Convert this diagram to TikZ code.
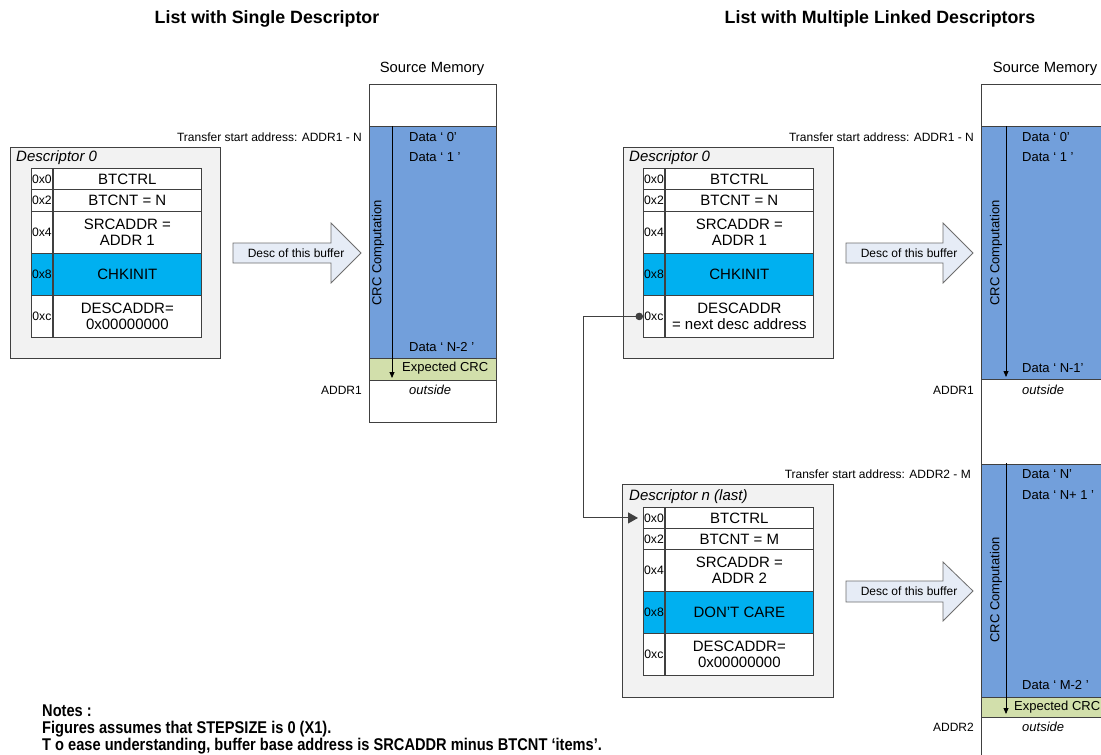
\documentclass[tikz,border=0pt]{standalone}
\usepackage{fontspec}
\setmainfont{Liberation Sans}
\newfontfamily\narrowfont[FakeStretch=0.86]{Liberation Sans}
\usetikzlibrary{arrows.meta}
\definecolor{descgray}{RGB}{242,242,242}
\definecolor{edge}{RGB}{64,64,64}
\definecolor{chk}{RGB}{0,176,240}
\definecolor{memblue}{RGB}{114,159,219}
\definecolor{crcgreen}{RGB}{210,223,171}
\definecolor{arrfill}{RGB}{230,236,246}
\definecolor{arredge}{RGB}{110,110,110}
\newcommand{\fsz}[2]{\fontsize{#1}{#2}\selectfont}
% row macro: name, x, y, height, addr, content, extra style
\newcommand{\drow}[7]{%
  \node[addrcell,#7,minimum height=#4,anchor=north west] (#1a) at (#2,#3) {#5};
  \node[valcell,#7,minimum height=#4,anchor=north west] (#1v) at (#1a.north east) {#6};}
\begin{document}
\begin{tikzpicture}[x=1pt,y=-1pt,
  title/.style={font=\fsz{17.8}{20}\bfseries, inner sep=0},
  descbox/.style={draw=edge, fill=descgray, line width=0.9pt, inner sep=0},
  desctitle/.style={font=\fsz{15}{17}\itshape, inner sep=0, anchor=west},
  addrcell/.style={draw=edge, fill=white, line width=0.9pt, inner sep=0, minimum width=21, font=\fsz{12.2}{14}},
  valcell/.style={draw=edge, fill=white, line width=0.9pt, inner sep=0, minimum width=148, font=\fsz{15}{16}, align=center},
  hl/.style={fill=chk},
  memseg/.style={draw=edge, line width=0.9pt, inner sep=0, anchor=north west},
  mtext/.style={font=\fsz{13}{15}, inner sep=0, anchor=west},
  small/.style={font=\fsz{12}{14}, inner sep=0},
  crclabel/.style={font=\fsz{13}{15}, inner sep=0, rotate=90},
  crcarrow/.style={draw=black, line width=0.8pt, -{Triangle[length=6pt,width=5pt]}},
  blockarrow/.style={draw=arredge, fill=arrfill, line width=0.8pt, line join=miter},
  link/.style={draw=edge, line width=1pt, {Circle[length=7.5pt]}-{Triangle[length=10pt,width=11pt]}, shorten >=5pt},
  notes/.style={font=\fsz{17}{18}\narrowfont\bfseries, inner sep=0, anchor=west}
]
\useasboundingbox (0,0) rectangle (1101,755);
\clip (0,0) rectangle (1101,755);

% ---------- titles ----------
\node[title] (t1) at (267,19) {List with Single Descriptor};
\node[title] (t2) at (880,19) {List with Multiple Linked Descriptors};

% ---------- left: descriptor 0 ----------
\node[descbox, minimum width=210, minimum height=211, anchor=north west] (LD) at (10,147) {};
\node[desctitle] (LDt) at (16,158) {Descriptor 0};
\drow{L0}{31}{168}{21}{0x0}{BTCTRL}{}
\drow{L2}{31}{189}{22}{0x2}{BTCNT = N}{}
\drow{L4}{31}{211}{42}{0x4}{SRCADDR =\\ADDR 1}{}
\drow{L8}{31}{253}{42}{0x8}{CHKINIT}{hl}
\drow{Lc}{31}{295}{42}{0xc}{DESCADDR=\\0x00000000}{}

% ---------- left: source memory ----------
\node[font=\fsz{14.8}{16}, inner sep=0] (LSM) at (432,69) {Source Memory};
\node[memseg, fill=white, minimum width=127, minimum height=42] (LMtop) at (369,84) {};
\node[memseg, fill=memblue, minimum width=127, minimum height=232] (LMblue) at (369,126) {};
\node[memseg, fill=crcgreen, minimum width=127, minimum height=22] (LMgreen) at (369,358) {};
\node[memseg, fill=white, minimum width=127, minimum height=42] (LMout) at (369,380) {};
\node[mtext] (Ld0) at (409,137) {Data ‘ 0’};
\node[mtext] (Ld1) at (409,157) {Data ‘ 1 ’};
\node[mtext] (LdN) at (409,347) {Data ‘ N-2 ’};
\node[mtext] (Lexp) at (402,368) {Expected CRC};
\node[mtext, font=\fsz{13}{15}\itshape] (Lout) at (409,390) {outside};
\node[small, anchor=east] (Ltsa) at (362,137) {Transfer start address: ADDR1 - N};
\node[small, anchor=east] (Laddr) at (362,390) {ADDR1};
\node[crclabel] (Lcrc) at (378,253) {CRC Computation};
\coordinate (LCs) at (392,126);
\coordinate (LCe) at (392,378);
\draw[crcarrow] (LCs) -- (LCe);

% left block arrow
\draw[blockarrow] (233,243) -- (331,243) -- (331,223) -- (361,253) -- (331,283) -- (331,263) -- (233,263) -- cycle;
\node[small] (LA) at (296,253) {Desc of this buffer};

% ---------- right: descriptor 0 ----------
\node[descbox, minimum width=210, minimum height=211, anchor=north west] (RD) at (623,147) {};
\node[desctitle] (RDt) at (629,158) {Descriptor 0};
\drow{R0}{643}{168}{21}{0x0}{BTCTRL}{}
\drow{R2}{643}{189}{22}{0x2}{BTCNT = N}{}
\drow{R4}{643}{211}{42}{0x4}{SRCADDR =\\ADDR 1}{}
\drow{R8}{643}{253}{42}{0x8}{CHKINIT}{hl}
\drow{Rc}{643}{295}{42}{0xc}{DESCADDR\\= next desc address}{}

% ---------- right: descriptor n ----------
\node[descbox, minimum width=211, minimum height=213, anchor=north west] (ND) at (622,484) {};
\node[desctitle] (NDt) at (629,497) {Descriptor n (last)};
\drow{N0}{643}{507}{21}{0x0}{BTCTRL}{}
\drow{N2}{643}{528}{21}{0x2}{BTCNT = M}{}
\drow{N4}{643}{549}{42}{0x4}{SRCADDR =\\ADDR 2}{}
\drow{N8}{643}{591}{42}{0x8}{DON’T CARE}{hl}
\drow{Nc}{643}{633}{42}{0xc}{DESCADDR=\\0x00000000}{}

% link connector
\draw[link] (Rca.west) -- ++(-60,0) |- (N0a.west);

% ---------- right: source memory ----------
\node[font=\fsz{14.8}{16}, inner sep=0] (RSM) at (1045,69) {Source Memory};
\node[memseg, fill=white, minimum width=150, minimum height=42] (RMtop) at (981,84) {};
\node[memseg, fill=memblue, minimum width=150, minimum height=253] (RMblue1) at (981,126) {};
\node[memseg, fill=white, minimum width=150, minimum height=85] (RMmid) at (981,379) {};
\node[memseg, fill=memblue, minimum width=150, minimum height=233] (RMblue2) at (981,464) {};
\node[memseg, fill=crcgreen, minimum width=150, minimum height=20] (RMgreen) at (981,697) {};
\node[memseg, fill=white, minimum width=150, minimum height=60] (RMout) at (981,717) {};

\node[mtext] (Rd0) at (1022,137) {Data ‘ 0’};
\node[mtext] (Rd1) at (1022,157) {Data ‘ 1 ’};
\node[mtext] (RdN) at (1022,368) {Data ‘ N-1’};
\node[mtext, font=\fsz{13}{15}\itshape] (Rout1) at (1022,390) {outside};
\node[small, anchor=east] (Rtsa1) at (974,137) {Transfer start address: ADDR1 - N};
\node[small, anchor=east] (Raddr1) at (974,390) {ADDR1};
\node[crclabel] (Rcrc1) at (996,253) {CRC Computation};
\coordinate (RC1s) at (1006,126);
\coordinate (RC1e) at (1006,377);
\draw[crcarrow] (RC1s) -- (RC1e);

\node[mtext] (Rn0) at (1022,474) {Data ‘ N’};
\node[mtext] (Rn1) at (1022,495) {Data ‘ N+ 1 ’};
\node[mtext] (RnM) at (1022,685) {Data ‘ M-2 ’};
\node[mtext] (Rexp) at (1014,707) {Expected CRC};
\node[mtext, font=\fsz{13}{15}\itshape] (Rout2) at (1022,727) {outside};
\node[small, anchor=east] (Rtsa2) at (971,474) {Transfer start address: ADDR2 - M};
\node[small, anchor=east] (Raddr2) at (974,727) {ADDR2};
\node[crclabel] (Rcrc2) at (996,590) {CRC Computation};
\coordinate (RC2s) at (1006,463);
\coordinate (RC2e) at (1006,714);
\draw[crcarrow] (RC2s) -- (RC2e);

% right block arrows
\draw[blockarrow] (846,243) -- (943,243) -- (943,223) -- (973,253) -- (943,283) -- (943,263) -- (846,263) -- cycle;
\node[small] (RA1) at (909,253) {Desc of this buffer};
\draw[blockarrow] (846,581) -- (943,581) -- (943,562) -- (973,591) -- (943,621) -- (943,602) -- (846,602) -- cycle;
\node[small] (RA2) at (909,591) {Desc of this buffer};

% ---------- notes ----------
\node[notes] (n1) at (42,711) {Notes :};
\node[notes] (n2) at (42,729) {Figures assumes that STEPSIZE is 0 (X1).};
\node[notes] (n3) at (42,746) {T o ease understanding, buffer base address is SRCADDR minus BTCNT ‘items’.};
\end{tikzpicture}
\end{document}
